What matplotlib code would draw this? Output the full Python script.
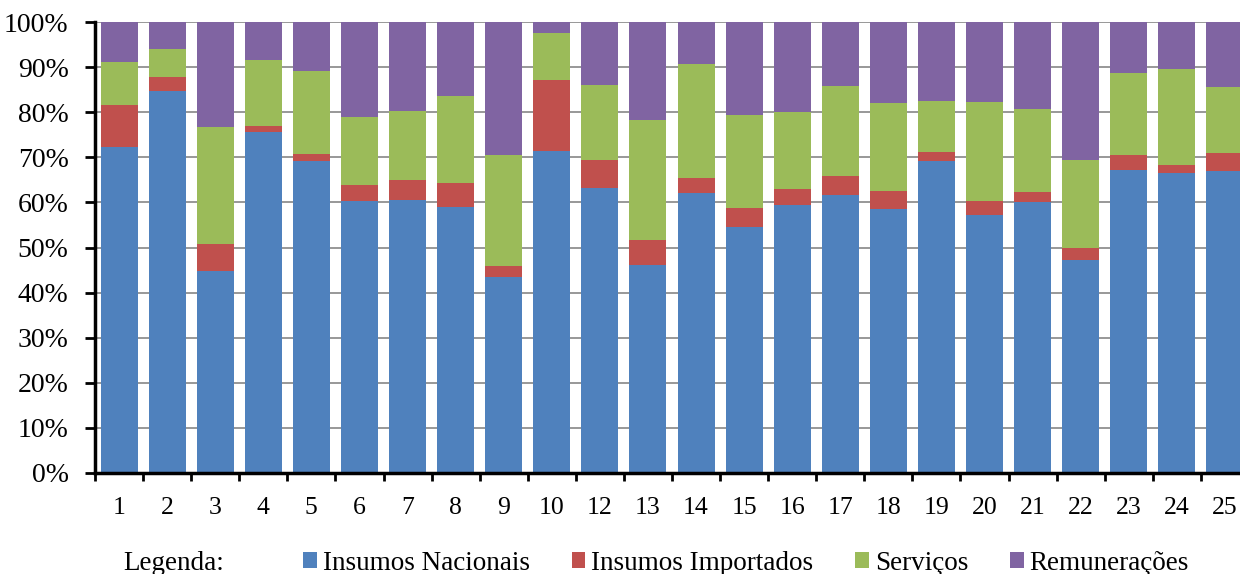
import matplotlib.pyplot as plt
from matplotlib.patches import Patch
import numpy as np

# setores
setores = ['1', '2', '3', '4', '5', '6', '7', '8', '9', '10', '12', '13',
           '14', '15', '16', '17', '18', '19', '20', '21', '22', '23', '24', '25']

# participação de cada componente (%)
insumos_nacionais = [72.3, 84.6, 44.9, 75.6, 69.2, 60.2, 60.6, 59.0, 43.4, 71.3, 63.3, 46.1,
                     62.0, 54.6, 59.4, 61.7, 58.5, 69.1, 57.1, 60.0, 47.2, 67.1, 66.5, 67.0]
insumos_importados = [9.2, 3.3, 5.9, 1.4, 1.6, 3.6, 4.4, 5.2, 2.6, 15.9, 6.2, 5.5,
                      3.5, 4.1, 3.6, 4.1, 4.0, 2.1, 3.3, 2.2, 2.8, 3.3, 1.9, 4.0]
servicos = [9.6, 6.1, 25.9, 14.5, 18.4, 15.1, 15.2, 19.5, 24.5, 10.4, 16.5, 26.6,
            25.2, 20.7, 17.0, 19.9, 19.5, 11.3, 21.9, 18.5, 19.4, 18.4, 21.2, 14.6]
remuneracoes = [8.9, 6.0, 23.3, 8.5, 10.8, 21.1, 19.8, 16.3, 29.5, 2.4, 14.0, 21.8,
                9.3, 20.6, 20.0, 14.3, 18.0, 17.5, 17.7, 19.3, 30.6, 11.2, 10.4, 14.4]

series = [insumos_nacionais, insumos_importados, servicos, remuneracoes]
nomes = ['Insumos Nacionais', 'Insumos Importados', 'Serviços', 'Remunerações']
cores = ['#4F81BD', '#C0504D', '#9BBB59', '#8064A2']

plt.rcParams['font.family'] = ['Liberation Serif', 'DejaVu Serif']

fig = plt.figure(figsize=(12.4, 5.74), dpi=100)
ax = fig.add_axes([95 / 1240, 1 - 473 / 574, 1154 / 1240, 451 / 574])

x = np.arange(len(setores))
base = np.zeros(len(setores))
for valores, cor in zip(series, cores):
    v = np.array(valores)
    ax.bar(x, v, bottom=base, width=0.77, color=cor, edgecolor='none', zorder=2)
    base += v

ax.set_xlim(-0.5, len(setores) - 0.5)
ax.set_ylim(0, 100)
ax.set_yticks(np.arange(0, 101, 10))
ax.set_yticklabels([f'{t}%' for t in range(0, 101, 10)])
ax.yaxis.grid(True, color='#868686', linewidth=1.2, zorder=0)
ax.set_axisbelow(True)

# rótulos no centro das barras, marcas nas divisões
ax.set_xticks(x)
ax.set_xticklabels(setores)
ax.set_xticks(np.arange(-0.5, len(setores), 1), minor=True)
ax.tick_params(axis='x', which='major', length=0, pad=17, labelsize=18.5)
ax.tick_params(axis='x', which='minor', length=6, width=2, direction='out', color='black')
ax.tick_params(axis='y', length=7, width=2, direction='out', labelsize=20, pad=12)

for s in ['top', 'right']:
    ax.spines[s].set_visible(False)
ax.spines['left'].set_linewidth(2.5)
ax.spines['bottom'].set_linewidth(2.5)

fig.text(123 / 1240, 1 - 563 / 574, 'Legenda:', fontsize=19.5, ha='left', va='center')
handles = [Patch(facecolor=c, edgecolor='none') for c in cores]
fig.legend(handles, nomes, ncol=4, loc='center', bbox_to_anchor=(746 / 1240, 1 - 563 / 574),
           frameon=False, fontsize=19.5, handlelength=0.5, handleheight=0.5,
           handletextpad=0.22, columnspacing=1.55, borderpad=0)

fig.savefig('out.png', dpi=100)
